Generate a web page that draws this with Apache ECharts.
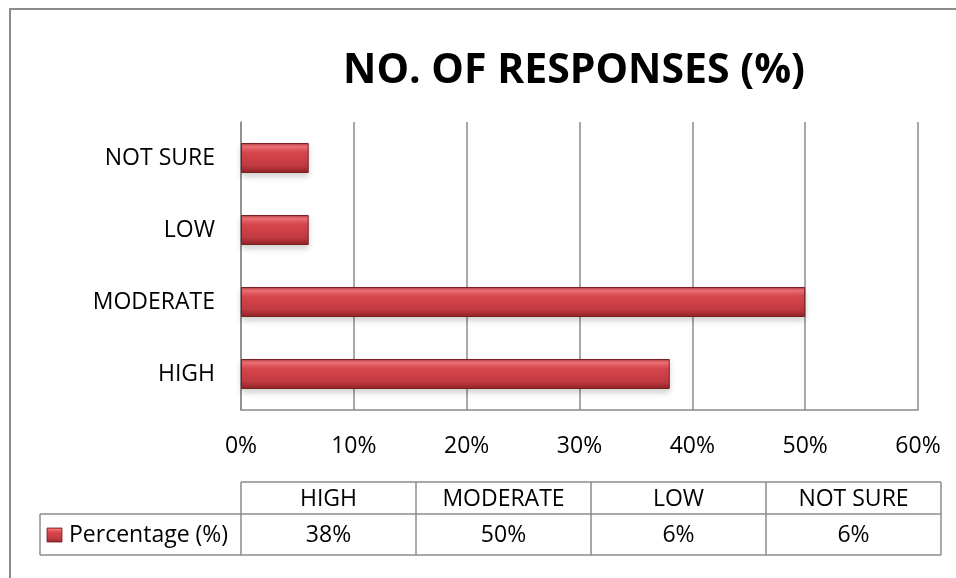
<!DOCTYPE html>
<html>
<head>
<meta charset="utf-8">
<script src="https://cdn.jsdelivr.net/npm/echarts@6/dist/echarts.min.js"></script>
<style>html,body{margin:0;padding:0;background:#fff;}#c{width:956px;height:578px;}</style>
</head>
<body>
<div id="c"></div>
<script>
var categories = ['HIGH', 'MODERATE', 'LOW', 'NOT SURE'];
var values = [38, 50, 6, 6];
var tableLabels = ['38%', '50%', '6%', '6%'];
var seriesName = 'Percentage (%)';
var titleText = 'NO. OF RESPONSES (%)';

var FONT = 'Open Sans';
var FS = 23;
var chart = echarts.init(document.getElementById('c'), null, {renderer: 'canvas'});

var barGrad = new echarts.graphic.LinearGradient(0, 0, 0, 1, [
  {offset: 0, color: '#b83a40'},
  {offset: 0.12, color: '#ee7277'},
  {offset: 0.3, color: '#d9474e'},
  {offset: 0.75, color: '#c23a41'},
  {offset: 1, color: '#8e2428'}
]);

// table geometry
var tLeft = 241, tRight = 941, tTop = 482, tMid = 514, tBot = 555, legLeft = 40;
var colW = (tRight - tLeft) / categories.length;
var g = [];
g.push({type: 'rect', shape: {x: 10, y: 9, width: 980, height: 620}, style: {fill: 'none', stroke: '#8c8c8c', lineWidth: 2}, silent: true});
var lineStyle = {stroke: '#8c8c8c', lineWidth: 1.5};
g.push({type: 'line', shape: {x1: tLeft, y1: tTop, x2: tRight, y2: tTop}, style: lineStyle});
g.push({type: 'line', shape: {x1: legLeft, y1: tMid, x2: tRight, y2: tMid}, style: lineStyle});
g.push({type: 'line', shape: {x1: legLeft, y1: tBot, x2: tRight, y2: tBot}, style: lineStyle});
g.push({type: 'line', shape: {x1: legLeft, y1: tMid, x2: legLeft, y2: tBot}, style: lineStyle});
for (var i = 0; i <= categories.length; i++) {
  var x = tLeft + colW * i;
  g.push({type: 'line', shape: {x1: x, y1: tTop, x2: x, y2: tBot}, style: lineStyle});
}
categories.forEach(function (c, i) {
  var cx = tLeft + colW * (i + 0.5);
  g.push({type: 'text', x: cx, y: (tTop + tMid) / 2 + 1, style: {text: c, font: FS + 'px "' + FONT + '"', fill: '#000', align: 'center', verticalAlign: 'middle'}});
  g.push({type: 'text', x: cx, y: (tMid + tBot) / 2 + 1, style: {text: tableLabels[i], font: FS + 'px "' + FONT + '"', fill: '#000', align: 'center', verticalAlign: 'middle'}});
});
g.push({type: 'rect', shape: {x: 47, y: 528, width: 15, height: 14}, style: {fill: barGrad, stroke: '#7a1f22', lineWidth: 0.8}});
g.push({type: 'text', x: 69, y: (tMid + tBot) / 2 + 1, style: {text: seriesName, font: FS + 'px "' + FONT + '"', fill: '#000', align: 'left', verticalAlign: 'middle'}});

chart.setOption({
  animation: false,
  backgroundColor: '#fff',
  title: {
    text: titleText, left: 569, top: 46, textAlign: 'center',
    textStyle: {fontFamily: FONT, fontWeight: 'bold', fontSize: 41, color: '#000'}
  },
  grid: {left: 241, right: 38, top: 122, bottom: 168, containLabel: false},
  xAxis: {
    type: 'value', min: 0, max: 60, interval: 10,
    axisLabel: {formatter: '{value}%', fontFamily: FONT, fontSize: FS, color: '#000', margin: 25},
    axisLine: {show: true, lineStyle: {color: '#8c8c8c', width: 1.5}},
    axisTick: {show: false},
    splitLine: {show: true, lineStyle: {color: '#8c8c8c', width: 1.5}}
  },
  yAxis: {
    type: 'category', data: categories,
    axisLabel: {fontFamily: FONT, fontSize: FS, color: '#000', margin: 26},
    axisLine: {show: true, lineStyle: {color: '#8c8c8c', width: 1.5}},
    axisTick: {show: false}
  },
  series: [{
    name: seriesName, type: 'bar', data: values, barWidth: 30,
    itemStyle: {color: barGrad, borderColor: '#7a1f22', borderWidth: 1, shadowColor: 'rgba(0,0,0,0.18)', shadowBlur: 6, shadowOffsetY: 3}
  }],
  graphic: g
});
</script>
</body>
</html>
